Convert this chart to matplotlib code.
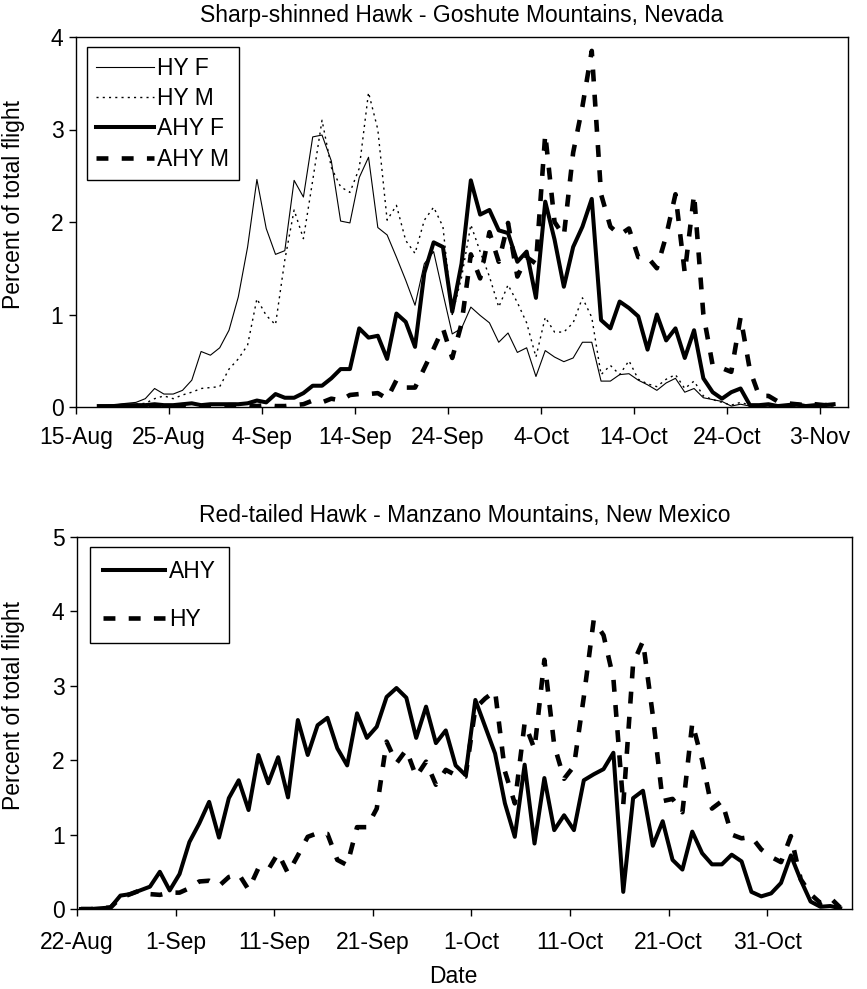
import matplotlib
matplotlib.use("Agg")
import matplotlib.pyplot as plt
import numpy as np

plt.rcParams['font.family'] = ['Liberation Sans', 'DejaVu Sans']

# ---------------- Top chart: Sharp-shinned Hawk (days since 15-Aug) ----------------
top_days = list(range(2, 82))
top_tick_days = [0, 10, 20, 30, 40, 50, 60, 70, 80]
top_tick_labels = ['15-Aug', '25-Aug', '4-Sep', '14-Sep', '24-Sep', '4-Oct', '14-Oct', '24-Oct', '3-Nov']

hy_f = [0.01, 0.02, 0.03, 0.04, 0.05, 0.09, 0.20, 0.14, 0.14, 0.18,
        0.29, 0.60, 0.56, 0.64, 0.83, 1.19, 1.73, 2.46, 1.93, 1.65,
        1.69, 2.45, 2.27, 2.92, 2.94, 2.66, 2.01, 1.99, 2.48, 2.70,
        1.94, 1.86, 1.62, 1.37, 1.10, 1.55, 1.68, 1.23, 0.79, 0.85,
        1.08, 0.99, 0.91, 0.70, 0.80, 0.59, 0.64, 0.33, 0.61, 0.54,
        0.49, 0.53, 0.70, 0.70, 0.28, 0.28, 0.35, 0.36, 0.29, 0.24,
        0.18, 0.26, 0.31, 0.16, 0.20, 0.10, 0.08, 0.06, 0.01, 0.03,
        0.01, 0.00, 0.01, 0.00, 0.01, 0.00, 0.00, 0.01, 0.00, 0.00]

hy_m = [0.01, 0.01, 0.02, 0.02, 0.03, 0.04, 0.09, 0.12, 0.09, 0.13,
        0.16, 0.20, 0.21, 0.22, 0.41, 0.52, 0.67, 1.17, 0.99, 0.89,
        1.59, 2.13, 1.82, 2.45, 3.10, 2.59, 2.38, 2.32, 2.58, 3.40,
        3.00, 2.02, 2.18, 1.80, 1.66, 2.02, 2.16, 1.95, 1.00, 1.40,
        1.97, 1.68, 1.41, 1.08, 1.32, 1.13, 0.91, 0.54, 0.97, 0.81,
        0.81, 0.91, 1.18, 0.97, 0.35, 0.45, 0.35, 0.50, 0.30, 0.25,
        0.22, 0.30, 0.35, 0.20, 0.28, 0.12, 0.08, 0.05, 0.02, 0.05,
        0.02, 0.01, 0.00, 0.01, 0.00, 0.00, 0.01, 0.00, 0.00, 0.00]

ahy_f = [0.01, 0.01, 0.01, 0.02, 0.02, 0.02, 0.03, 0.02, 0.02, 0.03,
         0.04, 0.02, 0.03, 0.03, 0.03, 0.03, 0.04, 0.07, 0.05, 0.14,
         0.10, 0.10, 0.15, 0.23, 0.23, 0.31, 0.41, 0.41, 0.85, 0.75,
         0.77, 0.52, 1.01, 0.92, 0.65, 1.45, 1.78, 1.73, 1.03, 1.55,
         2.45, 2.08, 2.13, 1.91, 1.88, 1.57, 1.68, 1.18, 2.22, 1.81,
         1.30, 1.73, 1.95, 2.25, 0.94, 0.85, 1.14, 1.07, 0.98, 0.62,
         1.00, 0.72, 0.85, 0.53, 0.83, 0.31, 0.16, 0.09, 0.16, 0.20,
         0.02, 0.02, 0.03, 0.01, 0.02, 0.03, 0.01, 0.02, 0.02, 0.03]

ahy_m = [0.00, 0.00, 0.00, 0.01, 0.00, 0.01, 0.00, 0.01, 0.01, 0.02,
         0.00, 0.01, 0.01, 0.01, 0.02, 0.02, 0.02, 0.01, 0.02, 0.01,
         0.01, 0.02, 0.03, 0.07, 0.05, 0.09, 0.07, 0.13, 0.14, 0.14,
         0.15, 0.09, 0.29, 0.21, 0.21, 0.42, 0.63, 0.85, 0.53, 0.90,
         1.65, 1.39, 1.89, 1.57, 1.99, 1.41, 1.62, 1.55, 2.95, 2.00,
         1.85, 2.75, 3.25, 3.85, 2.30, 1.95, 1.86, 1.93, 1.62, 1.62,
         1.50, 1.85, 2.30, 1.45, 2.30, 1.00, 0.45, 0.42, 0.38, 0.97,
         0.40, 0.12, 0.12, 0.06, 0.04, 0.03, 0.02, 0.03, 0.02, 0.03]

# ---------------- Bottom chart: Red-tailed Hawk (days since 22-Aug) ----------------
bot_days = list(range(0, 78))
bot_tick_days = [0, 10, 20, 30, 40, 50, 60, 70]
bot_tick_labels = ['22-Aug', '1-Sep', '11-Sep', '21-Sep', '1-Oct', '11-Oct', '21-Oct', '31-Oct']

rt_ahy = [0.00, 0.00, 0.01, 0.02, 0.18, 0.20, 0.25, 0.30, 0.50, 0.25,
          0.47, 0.90, 1.15, 1.44, 0.96, 1.49, 1.73, 1.33, 2.07, 1.69,
          2.04, 1.50, 2.54, 2.07, 2.47, 2.57, 2.16, 1.93, 2.63, 2.30,
          2.45, 2.85, 2.97, 2.84, 2.30, 2.72, 2.23, 2.40, 1.93, 1.80,
          2.81, 2.45, 2.09, 1.42, 0.97, 1.94, 0.88, 1.76, 1.06, 1.26,
          1.06, 1.73, 1.81, 1.88, 2.10, 0.23, 1.49, 1.59, 0.85, 1.18,
          0.66, 0.53, 1.04, 0.75, 0.60, 0.60, 0.73, 0.64, 0.23, 0.17,
          0.21, 0.35, 0.72, 0.39, 0.10, 0.03, 0.04, 0.01]

rt_hy = [0.00, 0.00, 0.01, 0.02, 0.15, 0.20, 0.25, 0.20, 0.19, 0.22,
         0.22, 0.28, 0.37, 0.38, 0.31, 0.43, 0.47, 0.26, 0.55, 0.53,
         0.75, 0.48, 0.72, 0.97, 1.02, 1.01, 0.66, 0.59, 1.10, 1.10,
         1.35, 2.25, 1.96, 2.14, 1.78, 1.98, 1.67, 1.87, 1.80, 1.78,
         2.70, 2.83, 2.93, 1.85, 1.42, 2.50, 2.15, 3.35, 2.20, 1.75,
         1.92, 2.85, 3.88, 3.68, 3.10, 1.40, 3.30, 3.60, 2.60, 1.45,
         1.48, 1.30, 2.50, 2.00, 1.35, 1.45, 1.00, 0.95, 0.97, 0.80,
         0.70, 0.63, 0.98, 0.40, 0.20, 0.08, 0.15, 0.02]

FS = 16.5
W, H = 867, 989
fig = plt.figure(figsize=(W / 100, H / 100), dpi=100)

def ax_rect(l, t, r, b):
    return [l / W, 1 - b / H, (r - l) / W, (b - t) / H]

def style_axes(ax, xpad):
    for s in ax.spines.values():
        s.set_linewidth(1.0)
        s.set_color('black')
    ax.tick_params(axis='both', direction='out', length=5, width=1,
                   labelsize=FS, colors='black')
    ax.tick_params(axis='x', pad=xpad)
    ax.tick_params(axis='y', pad=4)

# --- top
ax1 = fig.add_axes(ax_rect(76, 37, 848, 407))
xt = np.array(top_days) + 0.45
ax1.plot(xt, hy_f, color='black', lw=0.8, label='HY F')
ax1.plot(xt, hy_m, color='black', lw=1.0, dashes=(1.5, 3.0), label='HY M')
ax1.plot(xt, ahy_f, color='black', lw=2.9, label='AHY F')
ax1.plot(xt, ahy_m, color='black', lw=3.3, dashes=(2.6, 2.9), label='AHY M')
ax1.set_xlim(0, 83)
ax1.set_ylim(0, 4)
ax1.set_xticks(top_tick_days)
ax1.set_xticklabels(top_tick_labels)
ax1.set_yticks([0, 1, 2, 3, 4])
ax1.set_ylabel('Percent of total flight', fontsize=FS)
ax1.yaxis.set_label_coords(-0.066, 0.547)
ax1.set_title('Sharp-shinned Hawk - Goshute Mountains, Nevada', fontsize=FS, pad=10.5)
style_axes(ax1, 8.5)
leg1 = ax1.legend(loc='upper left', bbox_to_anchor=(0.014, 0.973), borderaxespad=0,
                  fontsize=FS, handlelength=2.5, handletextpad=0.15, labelspacing=0.32,
                  borderpad=0.42, fancybox=False, framealpha=1, edgecolor='black')
leg1.get_frame().set_linewidth(1.0)

# --- bottom
ax2 = fig.add_axes(ax_rect(77, 537, 852, 909))
xb = np.array(bot_days) + 0.4
ax2.plot(xb, rt_ahy, color='black', lw=2.9, label='AHY')
ax2.plot(xb, rt_hy, color='black', lw=3.3, dashes=(2.6, 2.9), label='HY')
ax2.set_xlim(0, 78.6)
ax2.set_ylim(0, 5)
ax2.set_xticks(bot_tick_days)
ax2.set_xticklabels(bot_tick_labels)
ax2.set_yticks([0, 1, 2, 3, 4, 5])
ax2.set_ylabel('Percent of total flight', fontsize=FS)
ax2.yaxis.set_label_coords(-0.067, 0.547)
ax2.set_xlabel('Date', fontsize=FS)
ax2.xaxis.set_label_coords(0.485, -0.15)
ax2.set_title('Red-tailed Hawk - Manzano Mountains, New Mexico', fontsize=FS, pad=10.5)
style_axes(ax2, 10.5)
leg2 = ax2.legend(loc='upper left', bbox_to_anchor=(0.017, 0.973), borderaxespad=0,
                  fontsize=FS, handlelength=2.7, handletextpad=0.2, labelspacing=1.1,
                  borderpad=0.55, fancybox=False, framealpha=1, edgecolor='black')
leg2.get_frame().set_linewidth(1.0)

fig.savefig('out.png', dpi=100)
